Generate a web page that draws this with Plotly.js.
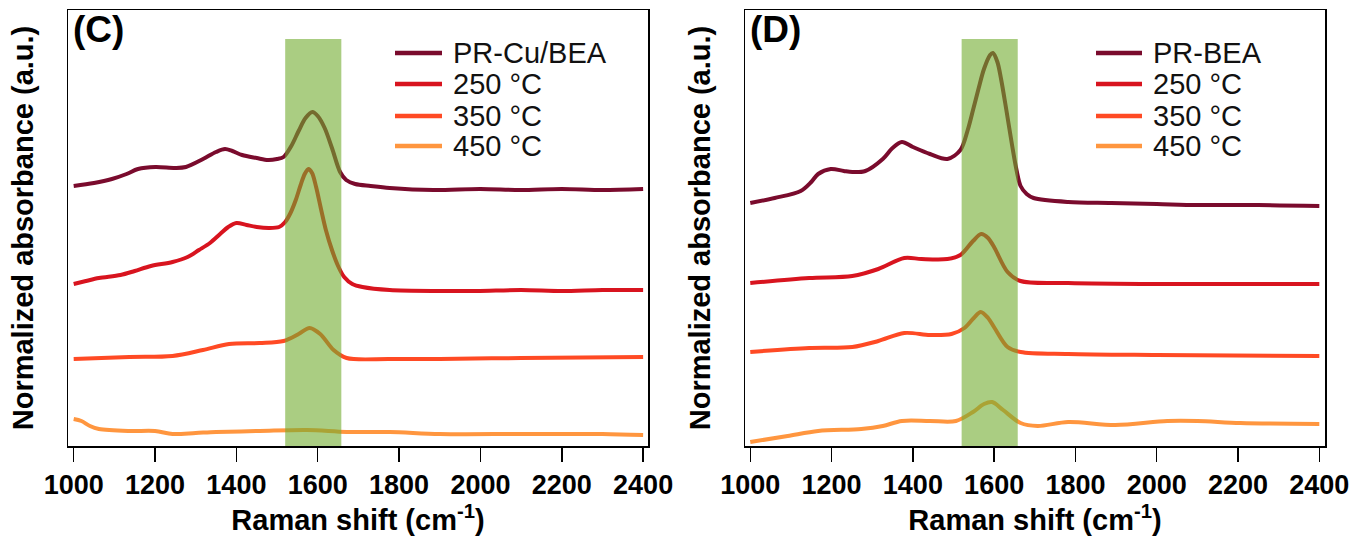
<!DOCTYPE html>
<html>
<head>
<meta charset="utf-8">
<script src="https://cdn.plot.ly/plotly-3.0.1.min.js"></script>
<style>
  html, body { margin: 0; padding: 0; background: #ffffff; }
  #chart { width: 1356px; height: 538px; }
</style>
</head>
<body>
<div id="chart"></div>
<script>
// ---- Panel (C): PR-Cu/BEA and heat-treated samples ----
const namesC = ['PR-Cu/BEA', '250 °C', '350 °C', '450 °C'];

const shiftC_PR = [1000,1050,1094,1130,1158,1201,1250,1276,1318,1350,1372,1390,1414,1450,1478,1500,1516,1535,1553,1570,1587,1600,1617,1635,1655,1670,1692,1730,1777,1884,2000,2098,2200,2300,2400];
const absC_PR   = [2.64,2.67,2.71,2.76,2.81,2.83,2.82,2.83,2.91,2.98,3.01,2.99,2.95,2.92,2.90,2.91,2.93,3.04,3.19,3.32,3.38,3.34,3.22,3.02,2.78,2.70,2.66,2.64,2.62,2.60,2.61,2.60,2.61,2.60,2.61];

const shiftC_250 = [1000,1030,1062,1115,1150,1190,1243,1280,1308,1335,1360,1380,1400,1425,1450,1480,1505,1520,1533,1546,1558,1568,1577,1586,1596,1608,1620,1635,1650,1665,1685,1710,1777,1900,1991,2100,2200,2300,2400];
const absC_250   = [1.66,1.69,1.72,1.75,1.79,1.84,1.88,1.93,2.00,2.07,2.16,2.23,2.27,2.25,2.23,2.22,2.23,2.28,2.37,2.50,2.65,2.76,2.81,2.77,2.63,2.41,2.20,2.00,1.84,1.73,1.66,1.63,1.60,1.59,1.59,1.60,1.59,1.60,1.60];

const shiftC_350 = [1000,1137,1243,1318,1382,1457,1516,1553,1580,1606,1639,1671,1777,1900,2100,2400];
const absC_350   = [0.91,0.93,0.94,1.00,1.06,1.07,1.09,1.16,1.22,1.16,1.00,0.92,0.91,0.91,0.92,0.93];

const shiftC_450 = [1000,1019,1040,1062,1137,1200,1243,1300,1350,1457,1574,1671,1777,1900,2098,2300,2400];
const absC_450   = [0.31,0.29,0.24,0.21,0.19,0.19,0.16,0.17,0.18,0.19,0.20,0.18,0.18,0.16,0.16,0.16,0.15];

// ---- Panel (D): PR-BEA and heat-treated samples ----
const namesD = ['PR-BEA', '250 °C', '350 °C', '450 °C'];

const shiftD_PR = [1000,1060,1124,1150,1167,1198,1230,1251,1283,1326,1350,1373,1400,1442,1485,1517,1535,1548,1562,1575,1590,1597,1608,1617,1630,1644,1655,1665,1680,1697,1782,1888,2000,2100,2250,2400];
const absD_PR   = [2.47,2.52,2.59,2.68,2.76,2.81,2.79,2.78,2.79,2.91,3.02,3.08,3.03,2.96,2.91,3.00,3.20,3.40,3.62,3.81,3.95,3.97,3.88,3.71,3.40,3.05,2.80,2.64,2.56,2.52,2.48,2.47,2.46,2.45,2.45,2.44];

const shiftD_250 = [1000,1145,1251,1315,1379,1421,1485,1517,1548,1568,1585,1601,1633,1665,1782,2000,2400];
const absD_250   = [1.67,1.72,1.74,1.81,1.92,1.91,1.91,1.95,2.09,2.16,2.12,2.02,1.78,1.69,1.67,1.66,1.66];

const shiftD_350 = [1000,1145,1251,1315,1379,1442,1495,1527,1550,1567,1585,1601,1633,1665,1782,2000,2400];
const absD_350   = [0.98,1.02,1.03,1.09,1.17,1.15,1.16,1.22,1.32,1.38,1.32,1.22,1.03,0.98,0.96,0.95,0.94];

const shiftD_450 = [1000,1092,1167,1273,1326,1373,1442,1506,1548,1575,1595,1622,1665,1707,1782,1898,2026,2100,2206,2400];
const absD_450   = [0.08,0.14,0.19,0.21,0.24,0.29,0.29,0.29,0.38,0.46,0.48,0.40,0.27,0.24,0.28,0.25,0.29,0.29,0.27,0.26];

// Highlighted G-band region (cm-1)
const bandStart = 1520;
const bandEnd = 1658;

// Axis ticks
const tickValues = [1000, 1200, 1400, 1600, 1800, 2000, 2200, 2400];
const tickLabels = ['1000', '1200', '1400', '1600', '1800', '2000', '2200', '2400'];

const colors = ['#7a0b2d', '#d8141f', '#ff4a24', '#ff963f'];

const W = 1356, H = 538;
const px = x => x / W;
const py = y => 1 - y / H;

const seriesC = [[shiftC_PR, absC_PR], [shiftC_250, absC_250], [shiftC_350, absC_350], [shiftC_450, absC_450]];
const seriesD = [[shiftD_PR, absD_PR], [shiftD_250, absD_250], [shiftD_350, absD_350], [shiftD_450, absD_450]];

const traces = [];
function addSeries(list, names, xa, ya) {
  list.forEach((s, i) => {
    traces.push({
      type: 'scatter', mode: 'lines',
      x: s[0], y: s[1], name: names[i],
      xaxis: xa, yaxis: ya,
      line: { color: colors[i], width: 4, shape: 'spline', smoothing: 0.9 },
      showlegend: false, hoverinfo: 'x+y+name'
    });
  });
}
addSeries(seriesC, namesC, 'x', 'y');
addSeries(seriesD, namesD, 'x2', 'y2');

const fontFamily = 'Liberation Sans, Arial, Helvetica, sans-serif';
const tickFont = { family: fontFamily, size: 27, weight: 'bold', color: '#000' };
const titleFont = { family: fontFamily, size: 29, weight: 'bold', color: '#000' };

function xAxis(domain, range, anchor) {
  return {
    domain: domain, range: range, anchor: anchor,
    tickmode: 'array', tickvals: tickValues, ticktext: tickLabels,
    ticks: 'outside', ticklen: 14, tickwidth: 1.5, tickcolor: '#000',
    showline: true, mirror: true, linecolor: '#000', linewidth: 1.5,
    showgrid: false, zeroline: false, tickfont: tickFont,
    title: { text: 'Raman shift (cm<sup>-1</sup>)', font: titleFont, standoff: 8 }
  };
}
function yAxis(domain, anchor) {
  return {
    domain: domain, range: [0.04, 4.40], anchor: anchor,
    showticklabels: false, ticks: '',
    showline: true, mirror: true, linecolor: '#000', linewidth: 1.5,
    showgrid: false, zeroline: false,
    title: { text: 'Normalized absorbance (a.u.)', font: titleFont, standoff: 24 }
  };
}

const yDomain = [py(446), py(10)];

// Shaded band drawn over the curves
const shapes = [
  { type: 'rect', xref: 'x', yref: 'y domain', x0: bandStart, x1: bandEnd, y0: 0, y1: (446 - 39) / 436,
    fillcolor: 'rgba(113,172,47,0.6)', line: { width: 0 }, layer: 'above' },
  { type: 'rect', xref: 'x2', yref: 'y2 domain', x0: bandStart, x1: bandEnd, y0: 0, y1: (446 - 39) / 436,
    fillcolor: 'rgba(113,172,47,0.6)', line: { width: 0 }, layer: 'above' }
];

const panelFont = { family: fontFamily, size: 37, weight: 'bold', color: '#000' };
const annotations = [
  { xref: 'paper', yref: 'paper', x: px(71), y: py(30), xanchor: 'left', yanchor: 'middle',
    text: '(C)', showarrow: false, font: panelFont },
  { xref: 'paper', yref: 'paper', x: px(748), y: py(30), xanchor: 'left', yanchor: 'middle',
    text: '(D)', showarrow: false, font: panelFont }
];

// Legend keys: line sample plus label for each series
const legendRows = [53, 84, 116, 146];
function addLegend(names, lineX0, lineX1, textX) {
  names.forEach((n, i) => {
    shapes.push({ type: 'line', xref: 'paper', yref: 'paper',
      x0: px(lineX0), x1: px(lineX1), y0: py(legendRows[i]), y1: py(legendRows[i]),
      line: { color: colors[i], width: 4.5 } });
    annotations.push({ xref: 'paper', yref: 'paper', x: px(textX), y: py(legendRows[i]),
      xanchor: 'left', yanchor: 'middle', text: n, showarrow: false,
      font: { family: fontFamily, size: 29, color: '#111' } });
  });
}
addLegend(namesC, 395, 442, 451);
addLegend(namesD, 1096, 1142, 1151);

const layout = {
  width: W, height: H,
  margin: { l: 0, r: 0, t: 0, b: 0 },
  paper_bgcolor: '#ffffff', plot_bgcolor: '#ffffff',
  showlegend: false,
  xaxis: xAxis([px(68), px(648)], [986, 2412], 'y'),
  yaxis: yAxis(yDomain, 'x'),
  xaxis2: xAxis([px(745), px(1325)], [987, 2414], 'y2'),
  yaxis2: yAxis(yDomain, 'x2'),
  shapes: shapes,
  annotations: annotations
};

Plotly.newPlot('chart', traces, layout, { displayModeBar: false, staticPlot: true });
</script>
</body>
</html>
